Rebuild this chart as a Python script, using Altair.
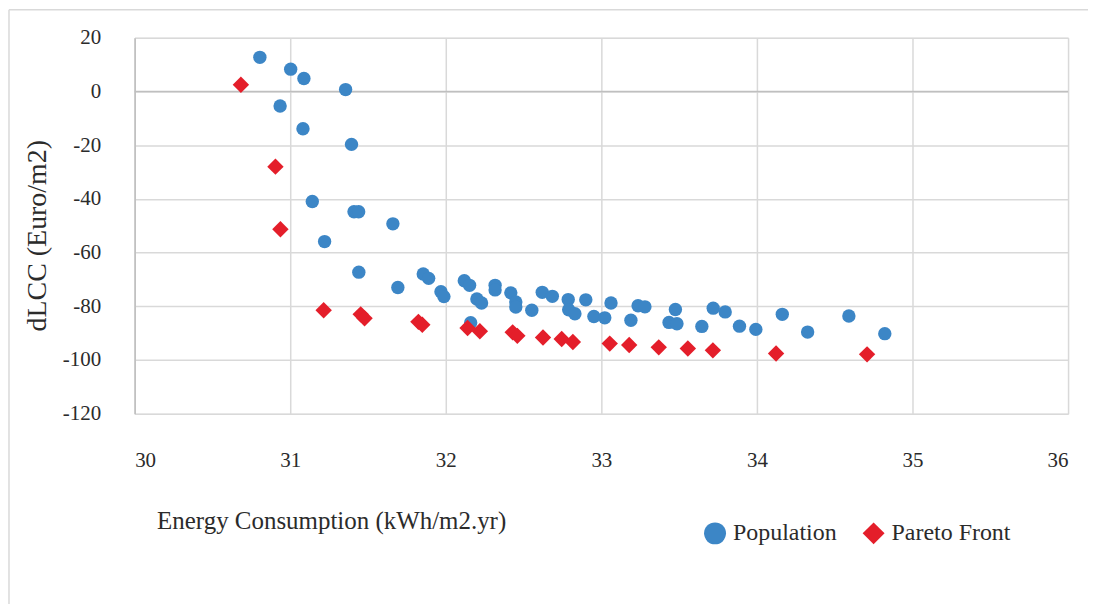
import altair as alt
import pandas as pd

# Population points (Energy Consumption kWh/m2.yr, dLCC Euro/m2)
pop_x = [30.805, 31.003, 31.088, 31.356, 30.935, 31.082, 31.394, 31.142, 31.41, 31.44,
         31.66, 31.221, 31.441, 31.855, 31.89, 31.692, 31.969, 31.988, 32.119, 32.153,
         32.2, 32.23, 32.16, 32.317, 32.317, 32.418, 32.45, 32.45, 32.553, 32.62,
         32.685, 32.787, 32.79, 32.83, 32.9, 32.952, 33.022, 33.062, 33.19, 33.236,
         33.28, 33.476, 33.435, 33.486, 33.646, 33.719, 33.796, 33.888, 33.993, 34.163,
         34.326, 34.591, 34.822]
pop_y = [12.7, 8.3, 4.8, 0.7, -5.4, -13.9, -19.7, -41.0, -44.8, -44.8,
         -49.3, -55.9, -67.3, -68.0, -69.6, -73.0, -74.6, -76.4, -70.5, -72.2,
         -77.3, -78.8, -86.1, -72.2, -73.9, -75.0, -78.4, -80.3, -81.5, -74.8,
         -76.3, -77.5, -81.3, -82.8, -77.6, -83.8, -84.3, -78.8, -85.2, -79.8,
         -80.2, -81.2, -86.0, -86.5, -87.5, -80.7, -82.1, -87.4, -88.6, -83.0,
         -89.6, -83.6, -90.2]

# Pareto front points
par_x = [30.683, 30.905, 30.937, 31.215, 31.453, 31.478, 31.824, 31.849, 32.14, 32.219,
         32.43, 32.46, 32.625, 32.745, 32.817, 33.054, 33.179, 33.369, 33.556, 33.717,
         34.123, 34.708]
par_y = [2.5, -28.0, -51.3, -81.5, -83.0, -84.5, -85.8, -86.9, -88.1, -89.3,
         -89.7, -91.0, -91.6, -92.2, -93.3, -93.9, -94.4, -95.3, -95.7, -96.4,
         -97.6, -97.9]

series_names = ["Population", "Pareto Front"]
x_ticks = [30, 31, 32, 33, 34, 35, 36]
y_ticks = [-120, -100, -80, -60, -40, -20, 0, 20]

pop_df = pd.DataFrame({"energy": pop_x, "dlcc": pop_y, "series": series_names[0]})
par_df = pd.DataFrame({"energy": par_x, "dlcc": par_y, "series": series_names[1]})

FONT = "Liberation Serif"
TXT = "#2b2b2b"
GRID = "#D9D9D9"
AXLINE = "#BFBFBF"

x_enc = alt.X("energy:Q", scale=alt.Scale(domain=[30, 36], nice=False, zero=False),
              axis=alt.Axis(values=x_ticks, title="Energy Consumption (kWh/m2.yr)",
                            labelExpr="'' + datum.value",
                            titleAnchor="start", titleAlign="left", titleX=22, titleY=115,
                            titleBaseline="alphabetic", titleFontSize=25, titleFontWeight="normal",
                            titleFont=FONT, titleColor=TXT,
                            labelFont=FONT, labelFontSize=21, labelColor=TXT, labelPadding=36,
                            ticks=False, domain=False, grid=True, gridColor=GRID, gridWidth=1.5))
y_enc = alt.Y("dlcc:Q", scale=alt.Scale(domain=[-120, 20], nice=False, zero=False),
              axis=alt.Axis(values=y_ticks, title="dLCC (Euro/m2)",
                            labelExpr="'' + datum.value",
                            titleAngle=270, titleAlign="center", titleBaseline="middle",
                            titleX=-97, titleY=198, titleFontSize=28, titleFontWeight="normal",
                            titleFont=FONT, titleColor=TXT,
                            labelFont=FONT, labelFontSize=21, labelColor=TXT, labelPadding=34,
                            ticks=False, domain=True, domainColor=AXLINE, domainWidth=1.5,
                            grid=True, gridColor=GRID, gridWidth=1.5))

legend = alt.Legend(title=None, orient="none", legendX=570, legendY=485,
                    direction="horizontal", symbolSize=484, symbolStrokeWidth=0,
                    symbolOpacity=1,
                    labelFont=FONT, labelFontSize=24, labelColor=TXT,
                    labelOffset=6, columnPadding=24, padding=0)

color_enc = alt.Color("series:N", scale=alt.Scale(domain=series_names, range=["#3C86C6", "#E41E2A"]),
                      legend=legend)
shape_enc = alt.Shape("series:N", scale=alt.Scale(domain=series_names, range=["circle", "diamond"]),
                      legend=legend)

pop_layer = alt.Chart(pop_df).mark_point(filled=True, opacity=1, strokeWidth=0, size=180).encode(
    x=x_enc, y=y_enc, color=color_enc, shape=shape_enc)
par_layer = alt.Chart(par_df).mark_point(filled=True, opacity=1, strokeWidth=0, size=270).encode(
    x=x_enc, y=y_enc, color=color_enc, shape=shape_enc)

zero_rule = alt.Chart(pd.DataFrame({"z": [0]})).mark_rule(color=AXLINE, strokeWidth=1.5).encode(
    y=alt.Y("z:Q")
)

frame_df = pd.DataFrame({"k": [0]})
frame_left = alt.Chart(frame_df).mark_rule(color=GRID, strokeWidth=1.5, clip=False).encode(
    x=alt.value(-126), y=alt.value(-28), y2=alt.value(800))
frame_top = alt.Chart(frame_df).mark_rule(color=GRID, strokeWidth=1.5, clip=False).encode(
    x=alt.value(-126), x2=alt.value(1200), y=alt.value(-28))

chart = alt.layer(frame_left, frame_top, zero_rule, pop_layer, par_layer).properties(
    width=936, height=377,
    autosize=alt.AutoSizeParams(type="none"),
    padding={"left": 127, "top": 29, "right": 20, "bottom": 190},
).configure_view(stroke=GRID, strokeWidth=1.5).configure(background="white")

chart.save("out.html", embed_options={"renderer": "svg", "actions": False})
